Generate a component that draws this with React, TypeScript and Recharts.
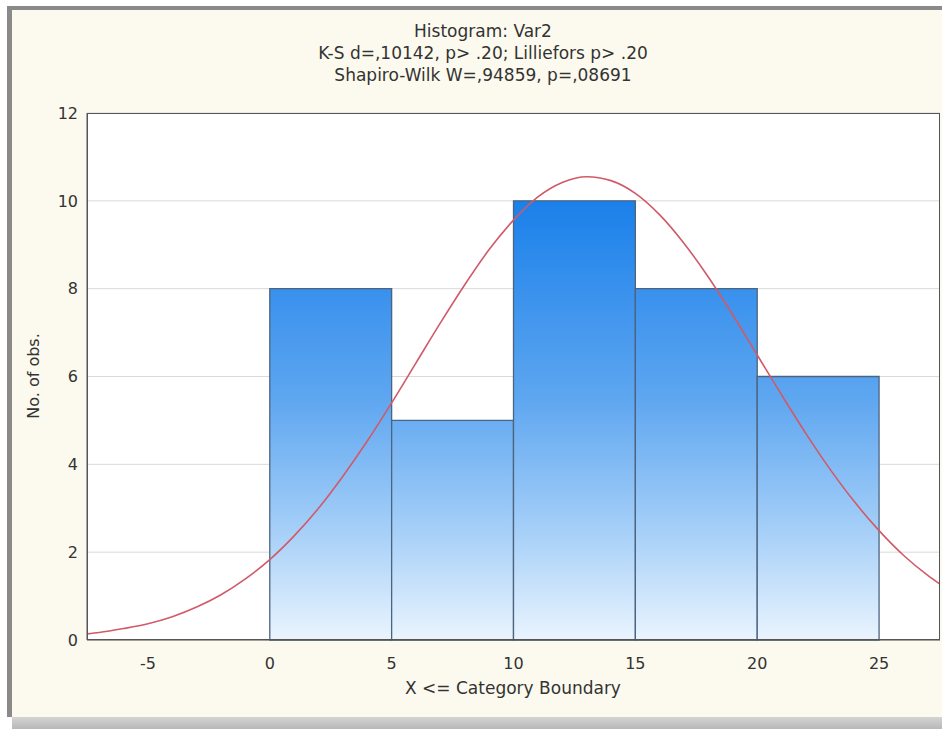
import React from "react";
import {
  ComposedChart,
  Line,
  XAxis,
  YAxis,
  CartesianGrid,
  ReferenceArea,
} from "recharts";

// histogram bins (upper boundary = X <= boundary)
const binStart = [0, 5, 10, 15, 20];
const binEnd = [5, 10, 15, 20, 25];
const binCount = [8, 5, 10, 8, 6];

// fitted normal curve
const curveX = [
  -7.5, -7, -6, -5, -4, -3, -2, -1, 0, 1, 2, 3, 4, 5, 6, 7, 8, 9, 10, 11, 12,
  13, 14, 15, 16, 17, 18, 19, 20, 21, 22, 23, 24, 25, 26, 27, 27.5,
];
const curveY = [
  0.14, 0.17, 0.26, 0.37, 0.53, 0.75, 1.03, 1.39, 1.83, 2.37, 3.0, 3.73, 4.53,
  5.4, 6.31, 7.22, 8.09, 8.89, 9.56, 10.09, 10.42, 10.55, 10.46, 10.17, 9.68,
  9.03, 8.26, 7.4, 6.49, 5.58, 4.7, 3.88, 3.14, 2.49, 1.93, 1.47, 1.27,
];

const xTicks = [-5, 0, 5, 10, 15, 20, 25];
const yTicks = [0, 2, 4, 6, 8, 10, 12];

const titleLines = [
  "Histogram: Var2",
  "K-S d=,10142, p> .20; Lilliefors p> .20",
  "Shapiro-Wilk W=,94859, p=,08691",
];

const curveData = curveX.map((x, i) => ({ x, y: curveY[i] }));

const FONT = '"DejaVu Sans", "Liberation Sans", Arial, sans-serif';
const TEXT = "#333333";

const PLOT = { left: 87, top: 113, right: 940, bottom: 640 };

export default function App(): React.ReactElement {
  return (
    <div
      style={{
        position: "absolute",
        left: 0,
        top: 0,
        width: 942,
        height: 729,
        background: "#ffffff",
        overflow: "hidden",
        fontFamily: FONT,
      }}
    >
      {/* window frame */}
      <div
        style={{
          position: "absolute",
          left: 7,
          top: 6,
          width: 960,
          height: 711,
          background: "#fcfaee",
          borderLeft: "5px solid #8a8a8a",
          borderTop: "4px solid #8a8a8a",
          boxSizing: "border-box",
        }}
      />
      <div
        style={{
          position: "absolute",
          left: 12,
          top: 717,
          width: 930,
          height: 12,
          background: "linear-gradient(#d4d4d4, #b8b8b8)",
        }}
      />

      {titleLines.map((t, i) => (
        <div
          key={t}
          style={{
            position: "absolute",
            left: 483,
            top: 21 + i * 22,
            transform: "translateX(-50%)",
            whiteSpace: "nowrap",
            fontSize: 17,
            lineHeight: "20px",
            color: TEXT,
          }}
        >
          {t}
        </div>
      ))}

      <div
        style={{
          position: "absolute",
          left: 33,
          top: 376,
          transform: "translate(-50%, -50%) rotate(-90deg)",
          whiteSpace: "nowrap",
          fontSize: 16,
          color: TEXT,
        }}
      >
        No. of obs.
      </div>
      <div
        style={{
          position: "absolute",
          left: 513,
          top: 688,
          transform: "translate(-50%, -50%)",
          whiteSpace: "nowrap",
          fontSize: 17,
          color: TEXT,
        }}
      >
        X &lt;= Category Boundary
      </div>

      <div style={{ position: "absolute", left: 0, top: 0 }}>
        <ComposedChart
          width={942}
          height={729}
          data={curveData}
          margin={{ top: PLOT.top, right: 942 - PLOT.right, bottom: 49, left: PLOT.left - 50 }}
        >
          <defs>
            <linearGradient
              id="barFill"
              gradientUnits="userSpaceOnUse"
              x1="0"
              y1="200"
              x2="0"
              y2="640"
            >
              <stop offset="0" stopColor="#1a80ea" />
              <stop offset="0.45" stopColor="#5ea6f0" />
              <stop offset="0.75" stopColor="#a5cff8" />
              <stop offset="1" stopColor="#eaf4fe" />
            </linearGradient>
          </defs>
          <CartesianGrid vertical={false} stroke="#d9d9d9" fill="#ffffff" />
          <XAxis
            type="number"
            dataKey="x"
            domain={[-7.5, 27.5]}
            ticks={xTicks}
            allowDataOverflow
            height={40}
            tickLine={false}
            tickSize={0}
            tickMargin={18}
            axisLine={{ stroke: "#555555" }}
            tick={{ fill: TEXT, fontSize: 16, fontFamily: FONT }}
          />
          <YAxis
            type="number"
            domain={[0, 12]}
            ticks={yTicks}
            width={50}
            tickLine={false}
            tickSize={0}
            tickMargin={9}
            axisLine={{ stroke: "#555555" }}
            tick={{ fill: TEXT, fontSize: 16, fontFamily: FONT }}
          />
          {binCount.map((c, i) => (
            <ReferenceArea
              key={i}
              x1={binStart[i]}
              x2={binEnd[i]}
              y1={0}
              y2={c}
              fill="url(#barFill)"
              fillOpacity={1}
              stroke="#4d6480"
              strokeWidth={1.3}
            />
          ))}
          <Line
            type="monotone"
            dataKey="y"
            stroke="#d05a68"
            strokeWidth={1.6}
            dot={false}
            isAnimationActive={false}
          />
        </ComposedChart>
      </div>

      {/* plot border */}
      <div
        style={{
          position: "absolute",
          left: PLOT.left,
          top: PLOT.top,
          width: PLOT.right - PLOT.left,
          height: PLOT.bottom - PLOT.top,
          border: "1px solid #555555",
          boxSizing: "border-box",
          pointerEvents: "none",
        }}
      />
    </div>
  );
}
